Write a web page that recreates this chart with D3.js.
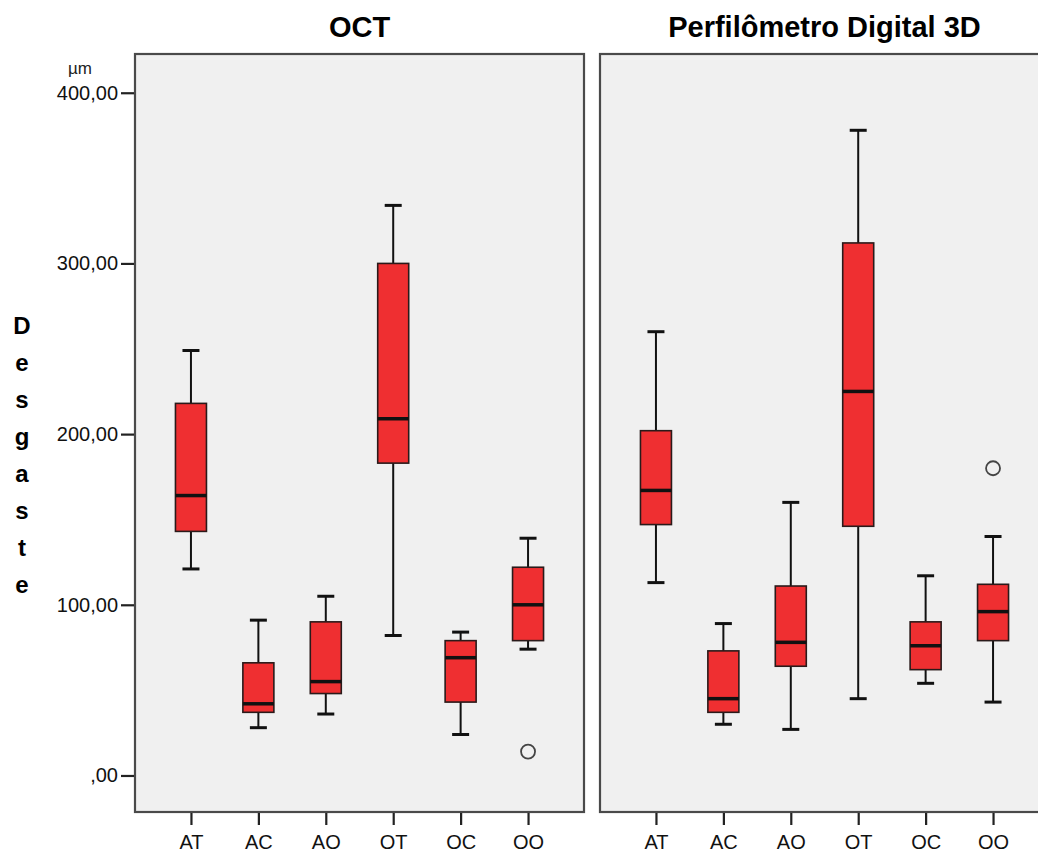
<!DOCTYPE html>
<html>
<head>
<meta charset="utf-8">
<script src="https://cdn.jsdelivr.net/npm/d3@7"></script>
<style>
  html, body { margin: 0; padding: 0; background: #ffffff; }
  svg { display: block; font-family: "Liberation Sans", Arial, sans-serif; }
</style>
</head>
<body>
<svg id="chart" width="1038" height="857"></svg>
<script>
// Groups shown on the x axis of each panel
const categories = ["AT", "AC", "AO", "OT", "OC", "OO"];

// Panel titles
const panelTitles = ["OCT", "Perfilômetro Digital 3D"];

// Box statistics per group: [min whisker, Q1, median, Q3, max whisker] (µm)
const octStats = [
  [121, 143, 164, 218, 249],
  [28, 37, 42, 66, 91],
  [36, 48, 55, 90, 105],
  [82, 183, 209, 300, 334],
  [24, 43, 69, 79, 84],
  [74, 79, 100, 122, 139]
];
const perfStats = [
  [113, 147, 167, 202, 260],
  [30, 37, 45, 73, 89],
  [27, 64, 78, 111, 160],
  [45, 146, 225, 312, 378],
  [54, 62, 76, 90, 117],
  [43, 79, 96, 112, 140]
];

// Outliers: [group, value]
const octOutliers = [["OO", 14]];
const perfOutliers = [["OO", 180]];

// Y axis
const yTicks = [0, 100, 200, 300, 400];
const yTickLabels = [",00", "100,00", "200,00", "300,00", "400,00"];
const yUnit = "µm";
const yTitle = "Desgaste";

const svg = d3.select("#chart");

const plotTop = 54, plotBottom = 812, panelW = 449;
const panels = [
  { x0: 135, title: panelTitles[0], stats: octStats, outliers: octOutliers, yAxis: true },
  { x0: 600, title: panelTitles[1], stats: perfStats, outliers: perfOutliers, yAxis: false }
];

const y = d3.scaleLinear().domain([-21.4, 422.7]).range([plotBottom, plotTop]);

const boxW = 31, capW = 17;
const fillRed = "#ef2f31";

panels.forEach(p => {
  const x = d3.scalePoint().domain(categories).range([p.x0, p.x0 + panelW]).padding(0.83);
  const g = svg.append("g");

  // panel background and frame
  g.append("rect")
    .attr("x", p.x0).attr("y", plotTop)
    .attr("width", panelW).attr("height", plotBottom - plotTop)
    .attr("fill", "#f0f0f0")
    .attr("stroke", "#4a4a4a").attr("stroke-width", 2.2);

  // title
  g.append("text")
    .attr("x", p.x0 + panelW / 2).attr("y", 37)
    .attr("text-anchor", "middle")
    .attr("font-weight", "bold").attr("font-size", 29)
    .attr("fill", "#000")
    .text(p.title);

  // x axis
  const xAxis = d3.axisBottom(x).tickSize(12).tickPadding(10);
  const xa = g.append("g").attr("transform", `translate(0,${plotBottom + 1})`).call(xAxis);
  xa.select(".domain").remove();
  xa.selectAll(".tick line").attr("stroke", "#222").attr("stroke-width", 2.2);
  xa.selectAll(".tick text")
    .attr("font-size", 20).attr("fill", "#111")
    .attr("font-family", "Liberation Sans, Arial, sans-serif");

  // y axis
  if (p.yAxis) {
    const yAxis = d3.axisLeft(y).tickValues(yTicks)
      .tickFormat((d, i) => yTickLabels[i]).tickSize(13).tickPadding(3);
    const ya = g.append("g").attr("transform", `translate(${p.x0 - 1},0)`).call(yAxis);
    ya.select(".domain").remove();
    ya.selectAll(".tick line").attr("stroke", "#222").attr("stroke-width", 2.2);
    ya.selectAll(".tick text")
      .attr("font-size", 20).attr("fill", "#111")
      .attr("font-family", "Liberation Sans, Arial, sans-serif");
  }

  // boxes
  const boxes = g.selectAll("g.box").data(p.stats).join("g").attr("class", "box")
    .attr("transform", (d, i) => `translate(${x(categories[i])},0)`);

  boxes.append("line")
    .attr("x1", 0).attr("x2", 0)
    .attr("y1", d => y(d[4])).attr("y2", d => y(d[0]))
    .attr("stroke", "#111").attr("stroke-width", 2);
  boxes.append("line")
    .attr("x1", -capW / 2).attr("x2", capW / 2)
    .attr("y1", d => y(d[4])).attr("y2", d => y(d[4]))
    .attr("stroke", "#111").attr("stroke-width", 3);
  boxes.append("line")
    .attr("x1", -capW / 2).attr("x2", capW / 2)
    .attr("y1", d => y(d[0])).attr("y2", d => y(d[0]))
    .attr("stroke", "#111").attr("stroke-width", 3);
  boxes.append("rect")
    .attr("x", -boxW / 2).attr("width", boxW)
    .attr("y", d => y(d[3])).attr("height", d => y(d[1]) - y(d[3]))
    .attr("fill", fillRed).attr("stroke", "#2a1a1a").attr("stroke-width", 1.6);
  boxes.append("line")
    .attr("x1", -boxW / 2).attr("x2", boxW / 2)
    .attr("y1", d => y(d[2])).attr("y2", d => y(d[2]))
    .attr("stroke", "#111").attr("stroke-width", 3.5);

  // outliers
  g.selectAll("circle.out").data(p.outliers).join("circle").attr("class", "out")
    .attr("cx", d => x(d[0])).attr("cy", d => y(d[1]))
    .attr("r", 7)
    .attr("fill", "none").attr("stroke", "#444").attr("stroke-width", 1.8);
});

// unit label above the y axis
svg.append("text")
  .attr("x", 80).attr("y", 74)
  .attr("text-anchor", "middle")
  .attr("font-size", 17).attr("fill", "#222")
  .text(yUnit);

// vertical stacked axis title
svg.append("g").selectAll("text").data(yTitle.split("")).join("text")
  .attr("x", 22)
  .attr("y", (d, i) => 334 + i * 37)
  .attr("text-anchor", "middle")
  .attr("font-weight", "bold").attr("font-size", 24)
  .attr("fill", "#000")
  .text(d => d);
</script>
</body>
</html>
